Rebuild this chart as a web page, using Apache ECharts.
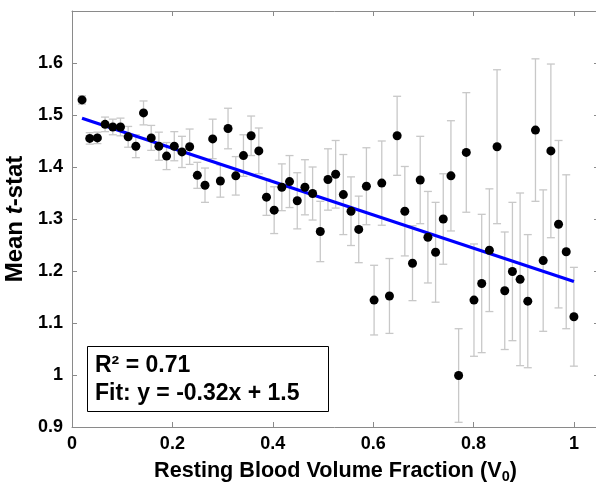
<!DOCTYPE html>
<html>
<head>
<meta charset="utf-8">
<script src="https://cdn.jsdelivr.net/npm/echarts@6/dist/echarts.min.js"></script>
<style>html,body{margin:0;padding:0;background:#fff;}#c{width:596px;height:483px;}</style>
</head>
<body>
<div id="c"></div>
<script>
// Resting blood volume fraction (x) for each point
const xValues = [0.0200,0.0353,0.0506,0.0659,0.0813,0.0966,0.1119,0.1272,0.1425,0.1578,
 0.1731,0.1884,0.2038,0.2191,0.2344,0.2497,0.2650,0.2803,0.2956,0.3109,
 0.3263,0.3416,0.3569,0.3722,0.3875,0.4028,0.4181,0.4334,0.4488,0.4641,
 0.4794,0.4947,0.5100,0.5253,0.5406,0.5559,0.5713,0.5866,0.6019,0.6172,
 0.6325,0.6478,0.6631,0.6784,0.6938,0.7091,0.7244,0.7397,0.7550,0.7703,
 0.7856,0.8009,0.8163,0.8316,0.8469,0.8622,0.8775,0.8928,0.9081,0.9234,
 0.9388,0.9541,0.9694,0.9847,1.0000];
// Mean t-stat for each point
const meanT = [1.529,1.455,1.456,1.482,1.477,1.477,1.458,1.440,1.504,1.456,
 1.440,1.421,1.440,1.429,1.439,1.384,1.365,1.454,1.373,1.474,
 1.383,1.422,1.460,1.431,1.342,1.317,1.361,1.372,1.335,1.361,
 1.349,1.276,1.376,1.386,1.347,1.315,1.280,1.363,1.144,1.369,
 1.152,1.460,1.315,1.215,1.375,1.265,1.236,1.300,1.383,0.999,
 1.428,1.144,1.176,1.240,1.439,1.162,1.199,1.184,1.142,1.471,
 1.220,1.431,1.290,1.237,1.112];
// Error bar half-lengths
const errT = [0.008,0.011,0.011,0.014,0.015,0.017,0.020,0.022,0.023,0.024,
 0.027,0.026,0.028,0.030,0.034,0.025,0.033,0.038,0.031,0.039,
 0.037,0.040,0.038,0.044,0.035,0.045,0.045,0.050,0.054,0.053,
 0.051,0.058,0.059,0.065,0.077,0.066,0.064,0.074,0.067,0.081,
 0.072,0.076,0.086,0.072,0.084,0.088,0.096,0.087,0.106,0.090,
 0.115,0.108,0.133,0.118,0.148,0.113,0.133,0.166,0.128,0.137,
 0.136,0.167,0.161,0.148,0.095];
// Linear fit
const fitSlope = -0.32;
const fitIntercept = 1.5;
const fitRange = [0.02, 1.0];
const xTicks = [0, 0.2, 0.4, 0.6, 0.8, 1];
const yTicks = [0.9, 1, 1.1, 1.2, 1.3, 1.4, 1.5, 1.6];

const FONT = "'Liberation Sans', Arial, Helvetica, sans-serif";
const points = xValues.map((x, i) => [x, meanT[i]]);
const errData = xValues.map((x, i) => [x, meanT[i] - errT[i], meanT[i] + errT[i]]);
const fitData = fitRange.map(x => [x, fitSlope * x + fitIntercept]);

const chart = echarts.init(document.getElementById('c'), null, {renderer: 'canvas'});
const axisGray = '#8a8a8a';
const labelFmt = v => {
  const r = Math.round(v * 100) / 100;
  return String(r);
};
chart.setOption({
  animation: false,
  backgroundColor: '#fff',
  grid: {left: 72, top: 11, width: 527, height: 416, containLabel: false, outerBoundsMode: 'none'},
  xAxis: [{
    type: 'value', min: 0, max: 1.05, interval: 0.2,
    position: 'bottom',
    name: 'Resting Blood Volume Fraction (V{sub|0})',
    nameLocation: 'middle', nameGap: 30,
    nameTextStyle: {
      rich: {
        sub: {fontSize: 14.5, fontWeight: 'bold', fontFamily: FONT, color: '#000', verticalAlign: 'bottom', lineHeight: 9}
      },
      fontSize: 21.6, fontWeight: 'bold', fontFamily: FONT, color: '#000', lineHeight: 27
    },
    axisLine: {show: true, lineStyle: {color: axisGray, width: 1}},
    axisTick: {show: true, inside: true, length: 5, lineStyle: {color: axisGray}},
    axisLabel: {show: true, margin: 8, fontSize: 18, fontWeight: 'bold', fontFamily: FONT, color: '#000',
      showMaxLabel: false, formatter: labelFmt},
    splitLine: {show: false}
  }, {
    type: 'value', min: 0, max: 1.05, interval: 0.2,
    position: 'top',
    axisLine: {show: true, onZero: false, lineStyle: {color: axisGray, width: 1}},
    axisTick: {show: true, inside: true, length: 5, lineStyle: {color: axisGray}},
    axisLabel: {show: false},
    splitLine: {show: false}
  }],
  yAxis: [{
    type: 'value', min: 0.9, max: 1.7, interval: 0.1,
    position: 'left',
    name: 'Mean {it|t}-stat',
    nameLocation: 'middle', nameGap: 29,
    nameTextStyle: {
      fontSize: 24, fontWeight: 'bold', fontFamily: FONT, color: '#000',
      rich: {
        it: {fontSize: 24, fontWeight: 'bold', fontStyle: 'italic', fontFamily: FONT, color: '#000'}
      }
    },
    axisLine: {show: true, onZero: false, lineStyle: {color: axisGray, width: 1}},
    axisTick: {show: true, inside: true, length: 5, lineStyle: {color: axisGray}},
    axisLabel: {show: true, margin: 9, fontSize: 18, fontWeight: 'bold', fontFamily: FONT, color: '#000',
      showMaxLabel: false, formatter: labelFmt},
    splitLine: {show: false}
  }, {
    type: 'value', min: 0.9, max: 1.7, interval: 0.1,
    position: 'right',
    axisLine: {show: true, onZero: false, lineStyle: {color: axisGray, width: 1}},
    axisTick: {show: true, inside: true, length: 5, lineStyle: {color: axisGray}},
    axisLabel: {show: false},
    splitLine: {show: false}
  }],
  series: [{
    type: 'custom',
    xAxisIndex: 0, yAxisIndex: 0,
    z: 1,
    silent: true,
    data: errData,
    renderItem: function (params, api) {
      const x = api.value(0);
      const lo = api.coord([x, api.value(1)]);
      const hi = api.coord([x, api.value(2)]);
      const cw = 4;
      const style = {stroke: '#c8c8c8', lineWidth: 1.3, fill: null};
      return {
        type: 'group',
        children: [
          {type: 'line', shape: {x1: lo[0], y1: lo[1], x2: hi[0], y2: hi[1]}, style: style},
          {type: 'line', shape: {x1: lo[0] - cw, y1: lo[1], x2: lo[0] + cw, y2: lo[1]}, style: style},
          {type: 'line', shape: {x1: hi[0] - cw, y1: hi[1], x2: hi[0] + cw, y2: hi[1]}, style: style}
        ]
      };
    }
  }, {
    type: 'line',
    xAxisIndex: 0, yAxisIndex: 0,
    z: 2,
    data: fitData,
    showSymbol: false,
    symbol: 'none',
    lineStyle: {color: '#0000ff', width: 3.2},
    silent: true
  }, {
    type: 'scatter',
    xAxisIndex: 0, yAxisIndex: 0,
    z: 3,
    data: points,
    symbol: 'circle',
    symbolSize: 9,
    itemStyle: {color: '#000', opacity: 1},
    silent: true
  }],
  graphic: [{
    type: 'rect',
    left: 87, top: 346,
    shape: {width: 241, height: 65},
    style: {fill: '#fff', stroke: '#000', lineWidth: 1},
    z: 10
  }, {
    type: 'text',
    x: 95, y: 366,
    style: {text: 'R² = 0.71', font: 'bold 23px ' + FONT, fill: '#000', textVerticalAlign: 'middle', verticalAlign: 'middle'},
    z: 11
  }, {
    type: 'text',
    x: 95, y: 393.5,
    style: {text: 'Fit: y = -0.32x + 1.5', font: 'bold 23px ' + FONT, fill: '#000', textVerticalAlign: 'middle', verticalAlign: 'middle'},
    z: 11
  }]
});
</script>
</body>
</html>
